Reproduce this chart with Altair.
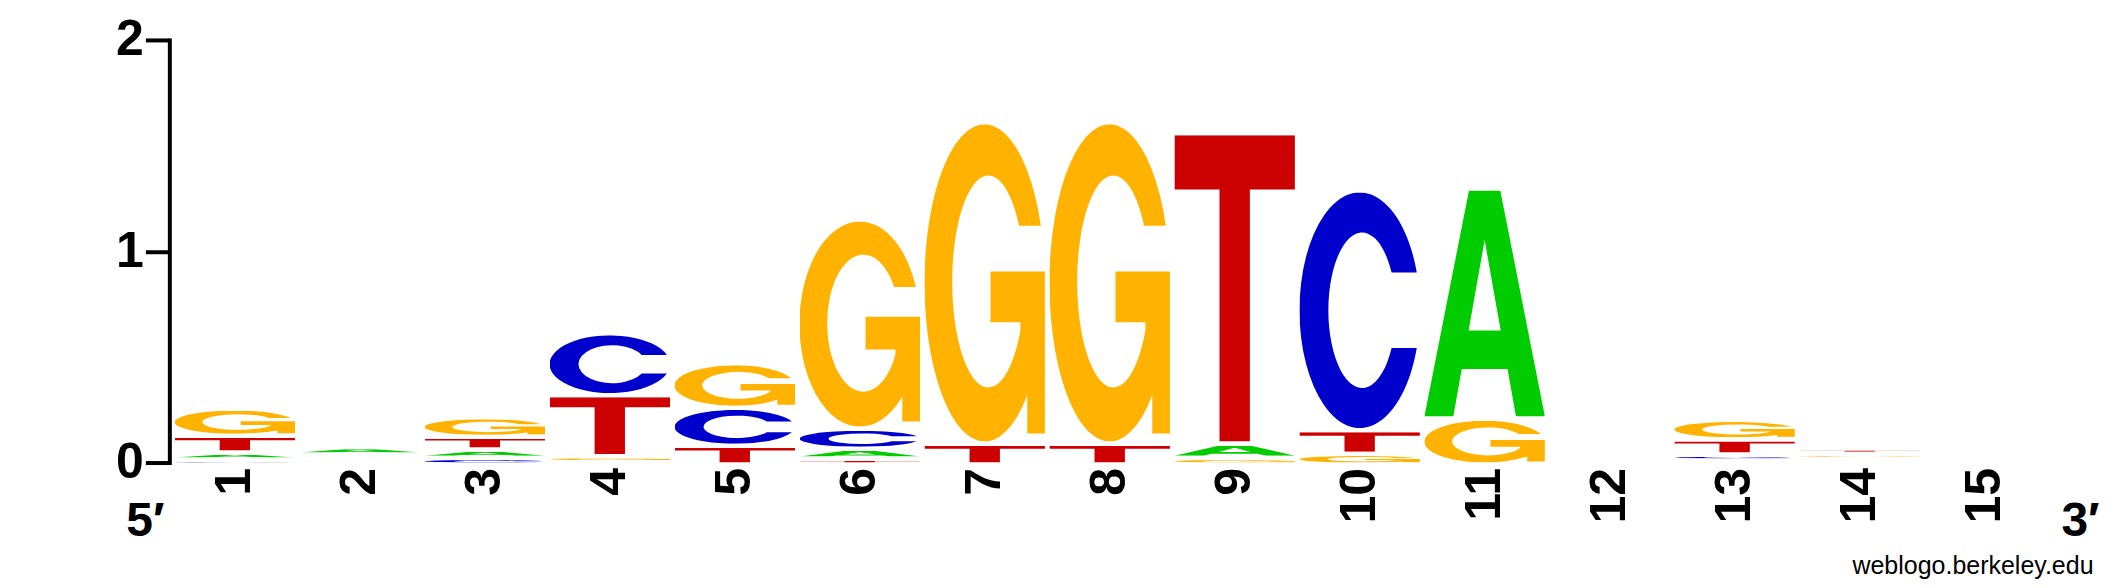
import base64

import altair as alt
import pandas as pd

positions = list(range(1, 16))
letters = ["A", "C", "G", "T"]

# information (bits) carried by each base at each position
bits_a = [0.033, 0.036, 0.039, 0.012, 0.0, 0.047, 0.0, 0.0, 0.068, 0.0, 1.090, 0.0, 0.019, 0.013, 0.0]
bits_c = [0.024, 0.015, 0.032, 0.293, 0.180, 0.095, 0.0, 0.0, 0.0, 1.135, 0.0, 0.0, 0.028, 0.014, 0.0]
bits_g = [0.130, 0.016, 0.094, 0.028, 0.211, 0.991, 1.522, 1.522, 0.032, 0.051, 0.218, 0.0, 0.092, 0.024, 0.0]
bits_t = [0.079, 0.016, 0.060, 0.289, 0.089, 0.028, 0.0995, 0.0995, 1.469, 0.112, 0.0, 0.0, 0.073, 0.026, 0.0]

colors = {"A": "#00CC00", "C": "#0000CC", "G": "#FFB300", "T": "#CC0000"}

FONT = "Liberation Sans"
GAP = 0.02    # white space left above every glyph, in bits
HALF = 0.482  # half the glyph width, in positions

# glyph outlines in a 100x100 box, stretched to fill each slot of a stack
glyph_paths = {
    "A": "M0 100 L37 0 L63 0 L100 100 L76 100 L69 79 L31 79 L24 100 Z "
         "M50 22 L36.7 62 L63.3 62 Z",
    "C": "M97.4 34 A50 50 0 1 0 97.4 66 L76.5 66 A28 33 0 1 1 76.5 34 Z",
    "G": "M96.6 32 A50 50 0 1 0 85.3 85.4 L85.3 97.5 L100 97.5 L100 46.4 "
         "L54.8 46.4 L54.8 62.4 L79.6 62.4 L79.6 65 A30 33.4 0 1 1 78.5 32 Z",
    "T": "M0 0 H100 V17.7 H62.6 V100 H37.4 V17.7 H0 Z",
}


def glyph_uri(letter):
    """Returns an svg data uri drawing one coloured base letter."""
    svg = (
        '<svg xmlns="http://www.w3.org/2000/svg" width="100" height="100" '
        'viewBox="0 0 100 100" preserveAspectRatio="none">'
        f'<path d="{glyph_paths[letter]}" fill="{colors[letter]}" fill-rule="evenodd"/>'
        "</svg>"
    )
    return "data:image/svg+xml;base64," + base64.b64encode(svg.encode()).decode()


rows = []
for letter, values in zip(letters, [bits_a, bits_c, bits_g, bits_t]):
    for pos, b in zip(positions, values):
        rows.append({"pos": pos, "letter": letter, "bits": b})
logo = pd.DataFrame(rows)
logo["glyph"] = logo["letter"].map({k: glyph_uri(k) for k in letters})

x_axis = alt.Axis(
    values=positions,
    format="d",
    grid=False,
    domain=False,
    ticks=False,
    tickSize=0,
    labelAngle=270,
    labelAlign="right",
    labelBaseline="middle",
    labelFont=FONT,
    labelFontSize=50,
    labelFontWeight="bold",
    labelColor="black",
    labelPadding=5,
    labelFlush=False,
    labelOverlap=False,
)

y_axis = alt.Axis(
    tickCount=3,
    format="d",
    grid=False,
    domainColor="black",
    domainWidth=4,
    domainCap="square",
    tickColor="black",
    tickWidth=4,
    tickSize=24,
    labelFont=FONT,
    labelFontSize=50,
    labelFontWeight="bold",
    labelColor="black",
    labelPadding=2,
    labelFlush=False,
    labelOverlap=False,
    offset=3,
)

stacks = (
    alt.Chart(logo)
    .transform_stack(
        stack="bits",
        groupby=["pos"],
        as_=["bottom", "top"],
        sort=[alt.SortField("bits", order="ascending")],
    )
    .transform_filter(alt.datum.bits > GAP)
    .transform_calculate(
        left=f"datum.pos - {HALF}",
        right=f"datum.pos + {HALF}",
        glyph_top=f"datum.top - {GAP}",
    )
    .mark_image(aspect=False)
    .encode(
        x=alt.X("left:Q", scale=alt.Scale(domain=[0.5, 15.5], nice=False, zero=False), axis=x_axis, title=None),
        x2="right:Q",
        y=alt.Y("bottom:Q", scale=alt.Scale(domain=[0, 2], nice=False), axis=y_axis, title=None),
        y2="glyph_top:Q",
        url="glyph:N",
    )
)


def note(text, x, y, size, weight, align):
    """Returns a single text mark placed in pixels on the plot area."""
    return (
        alt.Chart(alt.Data(values=[{}]))
        .mark_text(
            text=text,
            font=FONT,
            fontSize=size,
            fontWeight=weight,
            color="black",
            align=align,
            baseline="alphabetic",
        )
        .encode(x=alt.value(x), y=alt.value(y))
    )


chart = (
    alt.layer(
        stacks,
        note("5\u2032", -27, 497, 48, "bold", "center"),
        note("3\u2032", 1910, 497, 48, "bold", "center"),
        note("weblogo.berkeley.edu", 1923, 535, 25, "normal", "right"),
    )
    .properties(
        width=1876.5,
        height=423,
        padding={"left": 164.5, "top": 31.7, "right": 70, "bottom": 120},
        autosize=alt.AutoSizeParams(type="none"),
    )
    .configure_view(stroke=None)
)

chart.save("out.html", embed_options={"renderer": "svg", "actions": False})
